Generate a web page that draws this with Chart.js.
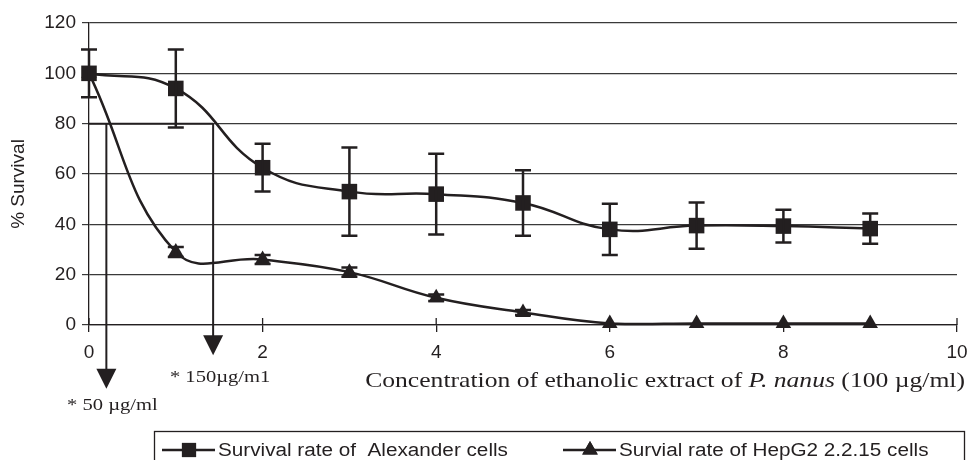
<!DOCTYPE html>
<html>
<head>
<meta charset="utf-8">
<script src="https://cdn.jsdelivr.net/npm/chart.js@4/dist/chart.umd.min.js"></script>
<style>
  html, body { margin: 0; padding: 0; background: #fff; }
  #wrap { width: 969px; height: 460px; position: relative; }
</style>
</head>
<body>
<div id="wrap"><canvas id="chart"></canvas></div>
<script>
// concentration (x 100 µg/ml) and % survival
const concentration = [0, 1, 2, 3, 4, 5, 6, 7, 8, 9];
const alexander = [100, 94, 62.5, 53, 52, 48.5, 38, 39.5, 39.3, 38.3];
const alexanderErr = [9.5, 15.5, 9.5, 17.5, 16, 13, 10.2, 9.2, 6.5, 6];
const hepg2 = [100, 29, 26, 21, 10.8, 5, 0.6, 0.6, 0.6, 0.6];
const hepg2Err = [0, 2, 1.8, 1.8, 1.3, 1, 0, 0, 0, 0];

const seriesNames = ["Survival rate of  Alexander cells", "Survial rate of HepG2 2.2.15 cells"];
const xTicks = [0, 2, 4, 6, 8, 10];
const yTicks = [0, 20, 40, 60, 80, 100, 120];

// IC marks: 80 % survival cut, arrow x positions and where the arrows end
const cutLevel = 80;
const cutX = [0.2, 1.43];
const cutTip = [-25.3, -12];
const cutLabels = ["* 50 µg/ml", "* 150µg/m1"];

const ink = "#231f20";
const serif = "'Liberation Serif', 'DejaVu Serif', serif";
const sans = "'Liberation Sans', Arial, sans-serif";

const pts = (ys) => ys.map((y, i) => ({ x: concentration[i], y: y }));

// the scanned figure has wide text, so stretch it sideways
function wideText(ctx, text, x, y, sx, align) {
  const w = ctx.measureText(text).width * sx;
  let left = x;
  if (align === "center") left = x - w / 2;
  if (align === "right") left = x - w;
  ctx.save();
  ctx.translate(left, y);
  ctx.scale(sx, 1);
  ctx.textAlign = "left";
  ctx.fillText(text, 0, 0);
  ctx.restore();
  return w;
}

// error bars, arrows, x ticks, axis title and legend
const extras = {
  id: "extras",
  afterDatasetsDraw(chart) {
    const ctx = chart.ctx;
    const xs = chart.scales.x, ys = chart.scales.y;
    ctx.save();
    ctx.strokeStyle = ink;
    ctx.fillStyle = ink;

    // error bars
    ctx.lineWidth = 2.5;
    [[alexander, alexanderErr], [hepg2, hepg2Err]].forEach(([vals, errs]) => {
      vals.forEach((v, i) => {
        if (!errs[i]) return;
        const px = xs.getPixelForValue(concentration[i]);
        const top = ys.getPixelForValue(v + errs[i]);
        const bot = ys.getPixelForValue(v - errs[i]);
        ctx.beginPath();
        ctx.moveTo(px, top); ctx.lineTo(px, bot);
        ctx.moveTo(px - 8, top); ctx.lineTo(px + 8, top);
        ctx.moveTo(px - 8, bot); ctx.lineTo(px + 8, bot);
        ctx.stroke();
      });
    });

    // x tick marks across the axis
    ctx.lineWidth = 1.3;
    const axisY = ys.getPixelForValue(0);
    xTicks.forEach(t => {
      const px = xs.getPixelForValue(t);
      ctx.beginPath();
      ctx.moveTo(px, axisY - 7); ctx.lineTo(px, axisY);
      ctx.stroke();
    });

    // 80 % cut line and arrows
    const cy = ys.getPixelForValue(cutLevel);
    ctx.lineWidth = 2;
    ctx.beginPath();
    ctx.moveTo(xs.getPixelForValue(0), cy);
    ctx.lineTo(xs.getPixelForValue(cutX[1]), cy);
    ctx.stroke();
    cutX.forEach((cx, i) => {
      const px = xs.getPixelForValue(cx);
      const tip = ys.getPixelForValue(cutTip[i]);
      ctx.beginPath();
      ctx.moveTo(px, cy); ctx.lineTo(px, tip - 18);
      ctx.stroke();
      ctx.beginPath();
      ctx.moveTo(px - 10, tip - 20);
      ctx.lineTo(px + 10, tip - 20);
      ctx.lineTo(px, tip);
      ctx.closePath();
      ctx.fill();
    });
    ctx.font = "17px " + serif;
    ctx.textBaseline = "middle";
    wideText(ctx, cutLabels[0], xs.getPixelForValue(cutX[0]) + 6, ys.getPixelForValue(cutTip[0]) + 17, 1.21, "center");
    wideText(ctx, cutLabels[1], xs.getPixelForValue(cutX[1]) + 7, ys.getPixelForValue(cutTip[1]) + 22, 1.21, "center");

    // x axis title with italic species name
    const parts = [
      ["Concentration of ethanolic extract of ", ""],
      ["P. nanus", "italic "],
      [" (100 µg/ml)", ""]
    ];
    const sx = 1.22;
    let w = 0;
    parts.forEach(p => { ctx.font = p[1] + "21px " + serif; w += ctx.measureText(p[0]).width * sx; });
    let tx = 965 - w;
    parts.forEach(p => {
      ctx.font = p[1] + "21px " + serif;
      tx += wideText(ctx, p[0], tx, 381, sx, "left");
    });

    // legend box
    ctx.lineWidth = 1.3;
    ctx.strokeRect(154.5, 431.5, 810, 40);
    ctx.font = "18px " + sans;
    const ly = 450;
    const entries = [
      { x0: 162, style: "rect", r: 10 },
      { x0: 563, style: "triangle", r: 9 }
    ];
    entries.forEach((e, i) => {
      ctx.lineWidth = 2.5;
      ctx.beginPath();
      ctx.moveTo(e.x0, ly); ctx.lineTo(e.x0 + 53, ly);
      ctx.stroke();
      Chart.helpers.drawPoint(ctx, { pointStyle: e.style, radius: e.r, borderWidth: 0 }, e.x0 + 27, ly);
      ctx.fill();
      wideText(ctx, chart.data.datasets[i].label, e.x0 + 56, ly + 1, 1.15, "left");
    });
    ctx.restore();
  }
};

const yTitle = {
  id: "yTitle",
  afterDraw(chart) {
    const ctx = chart.ctx;
    ctx.save();
    ctx.translate(19, 184);
    ctx.rotate(-Math.PI / 2);
    ctx.font = "19px " + sans;
    ctx.fillStyle = ink;
    ctx.textAlign = "center";
    ctx.textBaseline = "middle";
    ctx.fillText("% Survival", 0, 0);
    ctx.restore();
  }
};

const ctx = document.getElementById("chart").getContext("2d");
const chart = new Chart(ctx, {
  type: "line",
  data: {
    datasets: [{
      label: seriesNames[0],
      data: pts(alexander),
      borderColor: ink,
      backgroundColor: ink,
      borderWidth: 2.5,
      pointStyle: "rect",
      pointRadius: 11,
      pointBorderWidth: 0,
      tension: 0.45,
      clip: false
    }, {
      label: seriesNames[1],
      data: pts(hepg2),
      borderColor: ink,
      backgroundColor: ink,
      borderWidth: 2.5,
      pointStyle: "triangle",
      pointRadius: 9,
      pointBorderWidth: 0,
      tension: 0.42,
      clip: false
    }]
  },
  options: {
    responsive: true,
    maintainAspectRatio: false,
    animation: false,
    events: [],
    layout: { padding: { left: 0, right: 12, top: 23, bottom: 0 } },
    plugins: {
      legend: { display: false },
      tooltip: { enabled: false }
    },
    scales: {
      x: {
        type: "linear",
        min: 0,
        max: 10,
        afterBuildTicks: (s) => { s.ticks = xTicks.map(v => ({ value: v })); },
        afterFit: (s) => { s.height = 135; s.paddingLeft = 0; s.paddingRight = 0; },
        grid: { drawOnChartArea: false, drawTicks: true, tickLength: 7, color: ink, lineWidth: 1.3 },
        border: { color: ink, width: 1.3 },
        ticks: { color: ink, padding: 9, maxRotation: 0, font: { family: sans, size: 19 } }
      },
      y: {
        min: 0,
        max: 120,
        afterBuildTicks: (s) => { s.ticks = yTicks.map(v => ({ value: v })); },
        afterFit: (s) => { s.width = 89; },
        grid: { color: "#3a3a3a", lineWidth: 1.2, tickLength: 7 },
        border: { color: ink, width: 1.3 },
        ticks: { color: ink, padding: 6, font: { family: sans, size: 19 } }
      }
    }
  },
  plugins: [extras, yTitle]
});
</script>
</body>
</html>
